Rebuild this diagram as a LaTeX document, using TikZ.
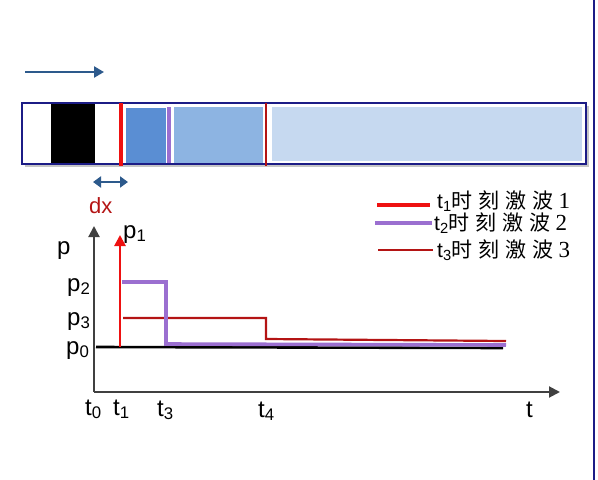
\documentclass[tikz,border=0pt]{standalone}
\usepackage{fontspec}
\setmainfont{Liberation Sans}
\newfontfamily\cjk{Noto Sans CJK SC}
\newfontfamily\digitfont{Liberation Serif}
\usetikzlibrary{arrows.meta,shadows}

\definecolor{navy}{HTML}{1C1C86}
\definecolor{arrowblue}{HTML}{2D5A8C}
\definecolor{zoneA}{HTML}{5A8ED3}
\definecolor{zoneB}{HTML}{8DB4E2}
\definecolor{zoneC}{HTML}{C6D9F0}
\definecolor{shockred}{HTML}{EE1111}
\definecolor{shockpurple}{HTML}{9B6FD0}
\definecolor{shockdark}{HTML}{B41414}
\definecolor{axisgray}{HTML}{404040}

\newcommand{\wavetext}[1]{t\textsubscript{#1}{\cjk 时\hspace{6pt}刻\hspace{6pt}激\hspace{6pt}波\hspace{5pt}}{\digitfont\fontsize{23}{23}\selectfont #1}}

\begin{document}
\begin{tikzpicture}[x=1pt, y=-1pt,
  lbl/.style={font=\fontsize{24}{24}\selectfont, inner sep=0pt, anchor=base west},
  legend/.style={font=\fontsize{21}{21}\selectfont, inner sep=0pt, anchor=base west},
  arrow/.style={-{Triangle[length=10pt, width=11pt]}, line width=2.6pt, arrowblue},
  axis/.style={-{Triangle[length=11pt, width=11pt]}, line width=2pt, axisgray},
  front/.style={line width=3.2pt}
]
\useasboundingbox (0,0) rectangle (598,480);

% Rand der Folie
\draw[navy, line width=1.2pt] (594,0) -- (594,480);

% Rohr mit Zonen
\coordinate (flowA) at (25,72);
\coordinate (flowB) at (104,72);
\draw[arrow] (flowA) -- (flowB);

\draw[navy, line width=2pt, fill=white,
  drop shadow={shadow xshift=2.5pt, shadow yshift=-3pt, opacity=0.45}]
  (22,103) rectangle (586,164);
\fill[black] (51,104) rectangle (95,163);
\fill[zoneA] (126,108) rectangle (166,163);
\fill[zoneB] (174,107) rectangle (263,163);
\fill[zoneC] (272,107) rectangle (582,161);
\draw[shockred, front] (121,103) -- (121,166);
\draw[shockpurple, front] (169,107) -- (169,163);
\draw[shockdark, line width=2.4pt] (266,103) -- (266,166);

% dx
\coordinate (dxA) at (93,182);
\coordinate (dxB) at (128,182);
\draw[{Triangle[length=8pt, width=11pt]}-{Triangle[length=8pt, width=11pt]}, line width=2.6pt, arrowblue] (dxA) -- (dxB);
\node[lbl, shockdark, font=\fontsize{22}{22}\selectfont] (dx) at (89,213) {dx};

% Legende
\draw[shockred, line width=3.6pt] (377,205) -- (430,205);
\draw[shockpurple, line width=3.6pt] (375,223) -- (432,223);
\draw[shockdark, line width=2.4pt] (378,250) -- (433,250);
\node[legend] (wave1) at (437,208) {\wavetext{1}};
\node[legend] (wave2) at (434,230) {\wavetext{2}};
\node[legend] (wave3) at (437,257) {\wavetext{3}};

% Achsen
\coordinate (origin) at (94,392);
\coordinate (ptop) at (94,226);
\coordinate (tend) at (560,392);
\draw[axis] (origin) -- (ptop);
\draw[axis] (origin) -- (tend);

% Druckverlaeufe
\draw[black, line width=2.6pt] (96,347) -- (503,348);
\draw[shockdark, line width=2.2pt] (123,318) -- (266,318) -- (266,339) -- (506,341);
\draw[shockpurple, line width=3.6pt] (122,282) -- (166,282) -- (166,344) -- (506,345);
\draw[shockred, line width=2.6pt, -{Triangle[length=11pt, width=11pt]}] (120,347) -- (120,235);

% Beschriftungen
\node[lbl] (pl) at (57,254) {p};
\node[lbl] (p1) at (123,238) {p\textsubscript{1}};
\node[lbl] (p2) at (67,291) {p\textsubscript{2}};
\node[lbl] (p3) at (67,325) {p\textsubscript{3}};
\node[lbl] (p0) at (66,354) {p\textsubscript{0}};
\node[lbl] (t0) at (85,415) {t\textsubscript{0}};
\node[lbl] (t1) at (113,415) {t\textsubscript{1}};
\node[lbl] (t3) at (157,416) {t\textsubscript{3}};
\node[lbl] (t4) at (258,417) {t\textsubscript{4}};
\node[lbl] (tl) at (526,417) {t};

\end{tikzpicture}
\end{document}
